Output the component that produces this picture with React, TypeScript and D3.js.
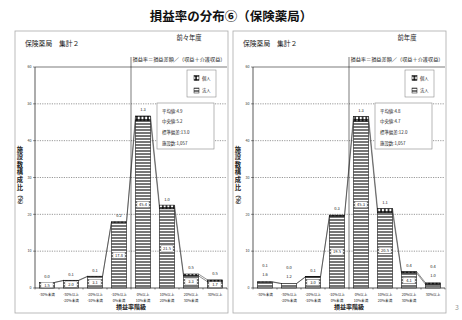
import React from "react";
import * as d3 from "d3";

const title = "損益率の分布⑥（保険薬局）";
const subTitle = "保険薬局　集計２";
const formula = "損益率＝損益差額／（収益＋介護収益）";
const xAxisTitle = "損益率階級";
const yAxisTitle = ["施", "設", "数", "構", "成", "比", "（", "%", "）"];
const categoryLines = [
  ["-30%未満"],
  ["-30%以上", "-20%未満"],
  ["-20%以上", "-10%未満"],
  ["-10%以上", "0%未満"],
  ["0%以上", "10%未満"],
  ["10%以上", "20%未満"],
  ["20%以上", "30%未満"],
  ["30%以上"],
];
const yTicks = [0, 10, 20, 30, 40, 50, 60];
const seriesNames = ["個人", "法人"];

// 前々年度
const yearA = "前々年度";
const hojinA = [1.5, 2.0, 3.1, 17.8, 45.4, 21.5, 3.3, 1.7];
const kojinA = [0.0, 0.1, 0.1, 0.2, 1.3, 1.0, 0.5, 0.5];
const statsA = ["平均値:4.9", "中央値:5.2", "標準偏差:13.0", "施設数:1,057"];

// 前年度
const yearB = "前年度";
const hojinB = [1.6, 1.2, 3.0, 19.5, 45.3, 20.5, 4.1, 1.0];
const kojinB = [0.1, 0.0, 0.1, 0.3, 1.3, 1.1, 0.4, 0.4];
const statsB = ["平均値:4.8", "中央値:4.7", "標準偏差:12.0", "施設数:1,057"];

// label placement style (indices whose 法人 label sits above the bar)
const outsideA: number[] = [];
const outsideB: number[] = [0, 1, 7];

const FONT = "'Noto Sans CJK JP', 'Noto Sans', sans-serif";

type PanelProps = {
  dx: number;
  year: string;
  hojin: number[];
  kojin: number[];
  stats: string[];
  outside: number[];
};

function Panel({ dx, year, hojin, kojin, stats, outside }: PanelProps) {
  const panelL = 15 + dx;
  const panelR = 228 + dx;
  const plotL = 35 + dx;
  const plotR = plotL + 192;
  const plotT = 67;
  const plotB = 288;
  const idx = d3.range(categoryLines.length);
  const x = d3
    .scaleBand<number>()
    .domain(idx)
    .range([plotL, plotR])
    .paddingInner(0.375)
    .paddingOuter(0.1875);
  const y = d3.scaleLinear().domain([0, 60]).range([plotB, plotT]);
  const bw = x.bandwidth();
  const step = x.step();
  const zeroX = (x(3)! + bw + x(4)!) / 2;
  const totals = hojin.map((h, i) => h + kojin[i]);
  const legX = panelR - 41;
  const statL = panelR - 71;

  return (
    <g fontFamily={FONT}>
      <rect x={panelL} y={31} width={panelR - panelL} height={282} fill="#fff" stroke="#aaa" strokeWidth={0.8} />
      <text x={panelL + 10} y={45.5} fontSize={6.8} fill="#222">{subTitle}</text>
      <text x={panelL + 174} y={39.5} fontSize={6.3} textAnchor="middle" fill="#222">{year}</text>
      <text x={zeroX + 1.5} y={61} fontSize={5} textLength={plotR - zeroX - 3} lengthAdjust="spacingAndGlyphs" fill="#222">{formula}</text>

      {/* gridlines */}
      {yTicks.filter((t) => t > 0 && t < 60).map((t) => (
        <line key={t} x1={plotL} x2={plotR} y1={y(t)} y2={y(t)} stroke="#333" strokeWidth={0.5} strokeDasharray="1.2,1.2" />
      ))}
      <line x1={plotL} x2={plotR} y1={plotT} y2={plotT} stroke="#222" strokeWidth={0.6} />

      {/* y ticks */}
      {yTicks.map((t) => (
        <g key={t}>
          <line x1={plotL - 2} x2={plotL} y1={y(t)} y2={y(t)} stroke="#222" strokeWidth={0.5} />
          <text x={plotL - 3.5} y={y(t) + 1.2} fontSize={3.6} textAnchor="end" fill="#333">{t}</text>
        </g>
      ))}

      {/* y axis title */}
      {yAxisTitle.map((c, i) => {
        const isParen = i >= 6;
        const cy = i < 6 ? 149 + i * 7.6 : 195 + (i - 6) * 5;
        const cx = 20 + dx;
        return isParen ? (
          <text key={i} x={cx} y={cy} fontSize={5.8} fontWeight="bold" textAnchor="middle" dominantBaseline="central" transform={`rotate(90 ${cx} ${cy})`} fill="#222">{c}</text>
        ) : (
          <text key={i} x={cx} y={cy} fontSize={6.3} fontWeight="bold" textAnchor="middle" dominantBaseline="central" fill="#222">{c}</text>
        );
      })}

      {/* series lines */}
      {idx.slice(0, -1).map((i) => (
        <g key={i} stroke="#222" strokeWidth={0.5}>
          <line x1={x(i)! + bw} y1={y(hojin[i])} x2={x(i + 1)!} y2={y(hojin[i + 1])} />
          <line x1={x(i)! + bw} y1={y(totals[i])} x2={x(i + 1)!} y2={y(totals[i + 1])} />
        </g>
      ))}

      {/* zero divider */}
      <line x1={zeroX} x2={zeroX} y1={57} y2={plotB} stroke="#222" strokeWidth={0.6} />

      {/* bars */}
      {idx.map((i) => (
        <g key={i}>
          <rect x={x(i)} y={y(hojin[i])} width={bw} height={y(0) - y(hojin[i])} fill="url(#stripes)" stroke="#111" strokeWidth={0.6} />
          {kojin[i] > 0 && (
            <rect x={x(i)} y={y(totals[i])} width={bw} height={y(hojin[i]) - y(totals[i])} fill="url(#dots)" stroke="#111" strokeWidth={0.6} />
          )}
        </g>
      ))}

      {/* labels */}
      {idx.map((i) => {
        const cx = x(i)! + bw / 2;
        const top = y(totals[i]);
        const out = outside.includes(i);
        const midY = (y(0) + y(hojin[i])) / 2;
        return (
          <g key={i}>
            {out ? (
              <>
                <text x={cx} y={top - 7 + 1.4} fontSize={4} textAnchor="middle" fill="#222">{hojin[i].toFixed(1)}</text>
                <text x={cx} y={top - 16 + 1.4} fontSize={4} textAnchor="middle" fill="#222">{kojin[i].toFixed(1)}</text>
              </>
            ) : (
              <>
                <rect x={cx - 6} y={midY - 3} width={12} height={6} fill="#fff" stroke="#666" strokeWidth={0.3} />
                <text x={cx} y={midY + 1.4} fontSize={4} textAnchor="middle" fill="#222">{hojin[i].toFixed(1)}</text>
                <text x={cx} y={top - 6 + 1.4} fontSize={4} textAnchor="middle" fill="#222">{kojin[i].toFixed(1)}</text>
              </>
            )}
          </g>
        );
      })}

      {/* axes */}
      <line x1={plotL} x2={plotL} y1={plotT} y2={plotB} stroke="#111" strokeWidth={0.7} />
      <line x1={plotL} x2={plotR} y1={plotB} y2={plotB} stroke="#111" strokeWidth={0.7} />
      {d3.range(categoryLines.length + 1).map((k) => (
        <line key={k} x1={plotL + k * step} x2={plotL + k * step} y1={plotB} y2={plotB + 1.5} stroke="#111" strokeWidth={0.5} />
      ))}

      {/* category labels */}
      {idx.map((i) => (
        <g key={i}>
          {categoryLines[i].map((s, j) => (
            <text key={j} x={x(i)! + bw / 2} y={296.3 + j * 5.6} fontSize={3.6} textAnchor="middle" fill="#222">{s}</text>
          ))}
        </g>
      ))}
      <text x={(plotL + plotR) / 2} y={309} fontSize={6} fontWeight="bold" textAnchor="middle" fill="#222">{xAxisTitle}</text>

      {/* legend */}
      <rect x={legX} y={70} width={29} height={27} fill="#fff" stroke="#777" strokeWidth={0.5} />
      {seriesNames.map((n, k) => (
        <g key={n}>
          <rect x={legX + 7} y={75.5 + k * 12.5} width={5} height={5} fill={k === 0 ? "url(#dots)" : "url(#stripes)"} stroke="#111" strokeWidth={0.5} />
          <text x={legX + 15} y={79.7 + k * 12.5} fontSize={4.3} fill="#222">{n}</text>
        </g>
      ))}

      {/* stats box */}
      <rect x={statL} y={103} width={57} height={46} fill="#fff" stroke="#888" strokeWidth={0.6} />
      {stats.map((s, k) => (
        <text key={k} x={statL + 5} y={112.5 + k * 10.7} fontSize={4.4} fill="#222">{s}</text>
      ))}
    </g>
  );
}

export default function App() {
  return (
    <svg width={462} height={320} viewBox="0 0 462 320" style={{ position: "absolute", left: 0, top: 0, background: "#fff" }}>
      <defs>
        <pattern id="stripes" patternUnits="userSpaceOnUse" width={4} height={3}>
          <rect width={4} height={3} fill="#777" />
          <rect y={2} width={4} height={1} fill="#fff" />
        </pattern>
        <pattern id="dots" patternUnits="userSpaceOnUse" width={3.7} height={4}>
          <rect width={3.7} height={4} fill="#111" />
          <ellipse cx={1.85} cy={2} rx={1.2} ry={1.4} fill="#fff" />
        </pattern>
      </defs>
      <rect width={462} height={320} fill="#fff" />
      <text x={231} y={20.5} fontSize={12.5} fontWeight="bold" textAnchor="middle" fontFamily={FONT} fill="#111">{title}</text>
      <Panel dx={0} year={yearA} hojin={hojinA} kojin={kojinA} stats={statsA} outside={outsideA} />
      <Panel dx={218} year={yearB} hojin={hojinB} kojin={kojinB} stats={statsB} outside={outsideB} />
      <text x={455} y={310} fontSize={7} fill="#999" fontFamily={FONT}>3</text>
    </svg>
  );
}
